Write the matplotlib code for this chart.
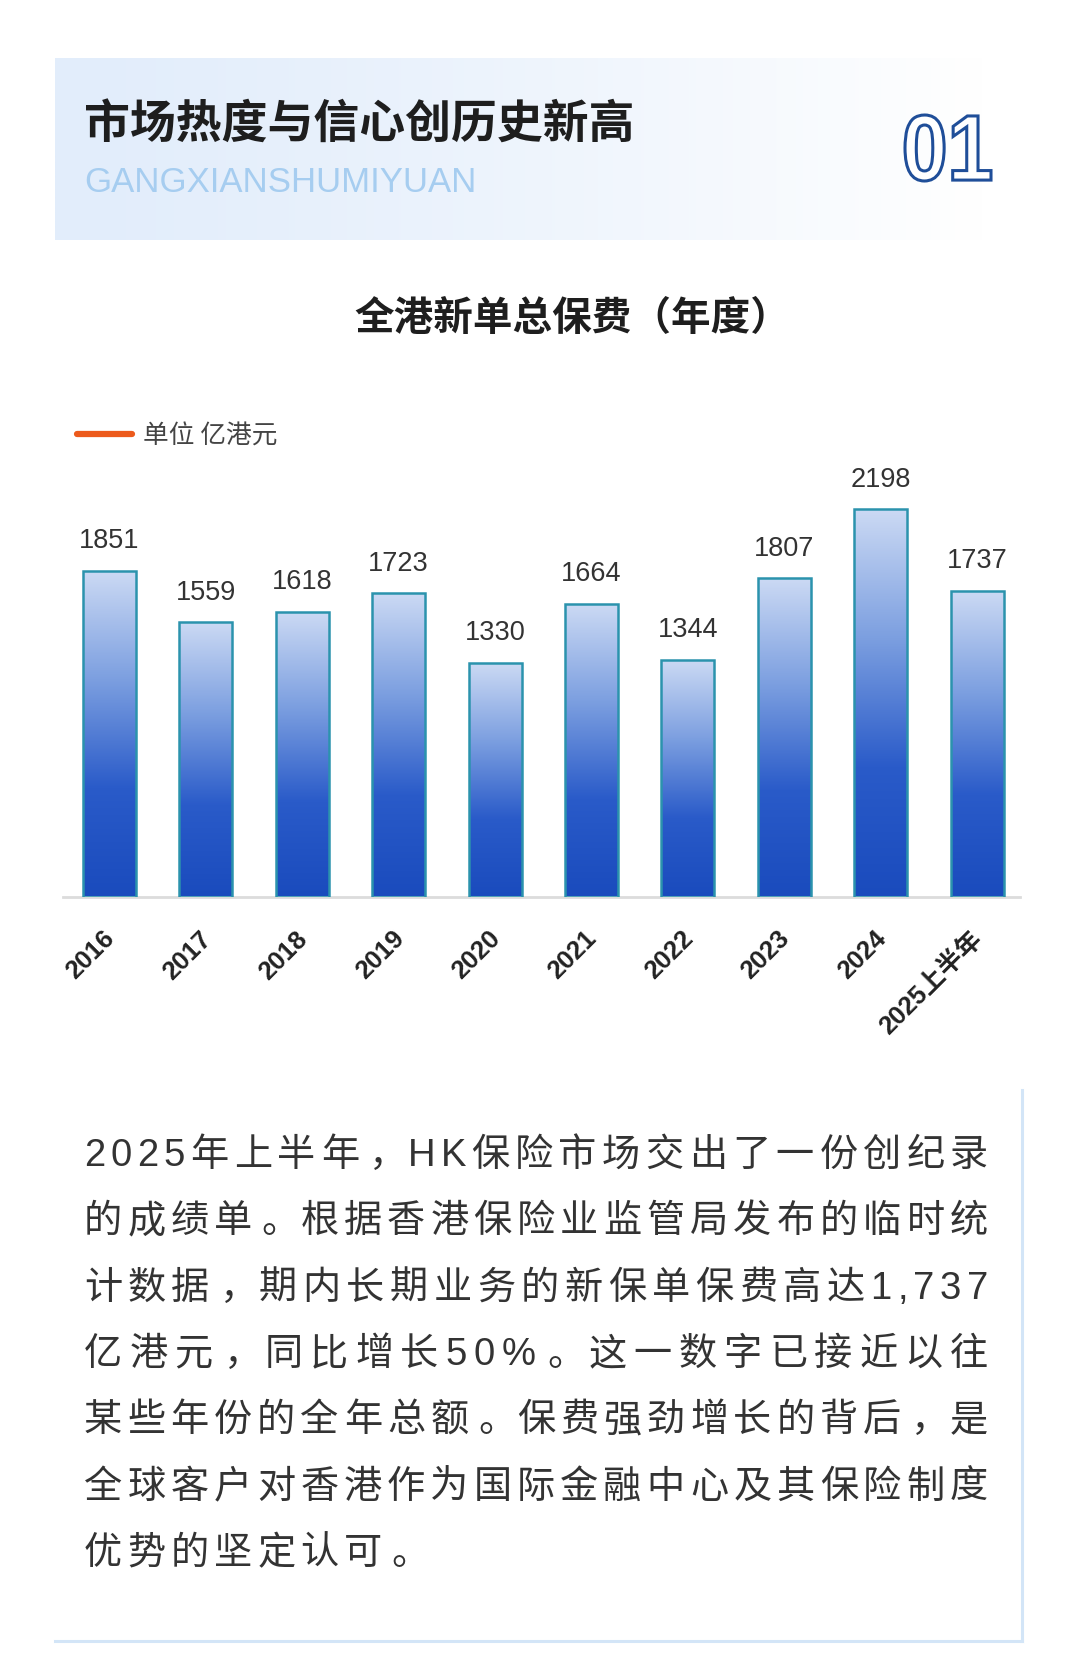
import numpy as np
import matplotlib
matplotlib.use("Agg")
import matplotlib.pyplot as plt
from matplotlib.colors import LinearSegmentedColormap
from matplotlib.patches import PathPatch
from matplotlib.textpath import TextPath
from matplotlib.font_manager import FontProperties, findfont
from matplotlib.ft2font import FT2Font
from matplotlib.transforms import Affine2D

plt.rcParams['font.family'] = ['Liberation Sans', 'Noto Sans CJK SC', 'DejaVu Sans']

# data
years = ['2016', '2017', '2018', '2019', '2020', '2021', '2022', '2023', '2024', '2025上半年']
premiums = [1851, 1559, 1618, 1723, 1330, 1664, 1344, 1807, 2198, 1737]

header_title = '市场热度与信心创历史新高'
header_sub = 'GANGXIANSHUMIYUAN'
header_no = '01'
chart_title = '全港新单总保费（年度）'
unit_label = '单位 亿港元'
paragraph = [
    '2025年上半年，HK保险市场交出了一份创纪录',
    '的成绩单。根据香港保险业监管局发布的临时统',
    '计数据，期内长期业务的新保单保费高达1,737',
    '亿港元，同比增长50%。这一数字已接近以往',
    '某些年份的全年总额。保费强劲增长的背后，是',
    '全球客户对香港作为国际金融中心及其保险制度',
    '优势的坚定认可。',
]

W, H = 1080, 1660
fig = plt.figure(figsize=(W / 100, H / 100), dpi=100)
fig.patch.set_facecolor('white')

# background layer in pixel coords (y down)
bg = fig.add_axes([0, 0, 1, 1], zorder=0)
bg.axis('off')

# header box with fading gradient
g = np.linspace(0, 1, 400)
fade = np.clip(g / 0.95, 0, 1) ** 1.3
left_c = np.array([226, 237, 251]) / 255
row = left_c[None, :] * (1 - fade[:, None]) + fade[:, None]
bg.imshow(row[None, :, :], extent=(55, 1030, 240, 58), aspect='auto', zorder=0)

bg.text(84, 126, header_title, fontsize=33, fontweight='bold', color='#1e1e1e',
        va='center', ha='left', family='Noto Sans CJK SC')
bg.text(84, 183, header_sub, fontsize=25, color='#a6cdf0', va='center', ha='left')

tp = TextPath((0, 0), header_no, size=90, prop=FontProperties(family='Liberation Sans', weight='bold'))
ext = tp.get_extents()
sx = 86 / ext.width
sy = 66 / ext.height
tr = Affine2D().translate(-ext.x0, -ext.y0).scale(sx, -sy).translate(905, 181)
bg.add_patch(PathPatch(tr.transform_path(tp), facecolor='white', edgecolor='#1f4e99', lw=2.2, zorder=2))

bg.text(572, 319, chart_title, fontsize=28.5, fontweight='bold', color='#1e1e1e',
        va='center', ha='center', family='Noto Sans CJK SC')

bg.plot([77, 132], [434, 434], color='#ec5a1c', lw=4.5, solid_capstyle='round')
bg.text(143, 437, unit_label, fontsize=18.5, color='#444444', va='center', ha='left',
        family='Noto Sans CJK SC')

# paragraph, justified with letter spacing
fs = 27.5
em = fs * 100 / 72
latin = FT2Font(findfont(FontProperties(family='Liberation Sans')))
latin.set_size(fs, 100)


def adv(ch):
    if ord(ch) < 128:
        return latin.load_char(ord(ch)).linearHoriAdvance / 65536
    return em


x0, x1 = 84, 988
line_gap = None
for k, line in enumerate(paragraph):
    widths = [adv(c) for c in line]
    if k < len(paragraph) - 1:
        gap = (x1 - x0 - sum(widths)) / (len(line) - 1)
        if all(ord(c) >= 128 for c in line):
            line_gap = gap
    else:
        gap = line_gap
    yb = 1152 + k * 66.3 + 14
    xx = x0
    for c, w in zip(line, widths):
        if c in '，。':
            bg.text(xx + 0.12 * em, yb, c, fontsize=fs, color='#333333', ha='left', va='baseline',
                    family='Noto Sans CJK SC')
        else:
            bg.text(xx + w / 2, yb, c, fontsize=fs, color='#333333', ha='center', va='baseline',
                    family=['Liberation Sans', 'Noto Sans CJK SC'])
        xx += w + gap

bg.plot([55, 1022], [1641, 1641], color='#d3e5f7', lw=2.2)
bg.plot([1022, 1022], [1090, 1641], color='#d3e5f7', lw=2.2)

bg.set_xlim(0, W)
bg.set_ylim(H, 0)

# chart
c0, pitch = 109.5, 96.4
base_px, top_px = 897.5, 420
scale = 0.1766
ax = fig.add_axes([63 / W, (H - base_px) / H, (1020 - 63) / W, (base_px - top_px) / H], zorder=1)
ax.patch.set_alpha(0)

x = np.arange(len(years))
bars = ax.bar(x, premiums, width=0.55, facecolor='none', edgecolor='#2b93ad', lw=1.8, zorder=3)

bar_cmap = LinearSegmentedColormap.from_list('b', ['#ccdaf4', '#7c9fe0', '#2a5bc9', '#1a4bbd'])
grad = np.linspace(1, 0, 256)[:, None]
for rect in bars:
    bx, bw, bh = rect.get_x(), rect.get_width(), rect.get_height()
    im = ax.imshow(grad, cmap=bar_cmap, extent=(bx, bx + bw, 0, bh), origin='lower',
                   aspect='auto', zorder=2, interpolation='bicubic')
    im.set_clip_path(rect)

for xi, v in zip(x, premiums):
    ax.annotate(f'{v}', (xi, v), xytext=(0, 12), textcoords='offset points',
                ha='center', va='bottom', fontsize=19.5, color='#333333')

for xi, lbl in zip(x, years):
    ax.annotate(lbl, (xi, 0), xytext=(-5, -21), textcoords='offset points',
                rotation=45, ha='right', va='top', rotation_mode='anchor',
                fontsize=18.5, fontweight='bold', color='#222222')

ax.set_xlim((63 - c0) / pitch, (1020 - c0) / pitch)
ax.set_ylim(0, (base_px - top_px) / scale)
ax.set_xticks([])
ax.set_yticks([])
for s in ['top', 'left', 'right']:
    ax.spines[s].set_visible(False)
ax.spines['bottom'].set_color('#dcdcdc')
ax.spines['bottom'].set_linewidth(2)

fig.savefig('out.png', dpi=100, facecolor='white')
